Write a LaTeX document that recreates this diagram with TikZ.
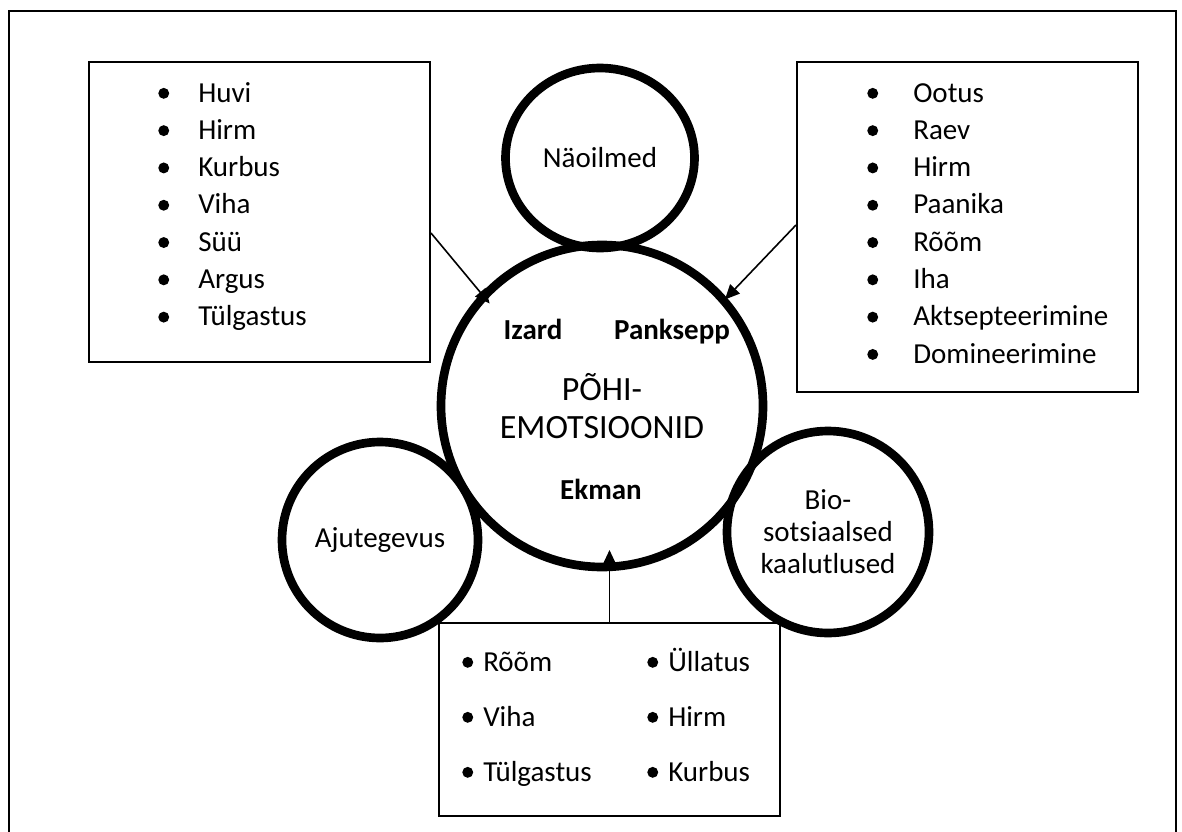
\documentclass[tikz,border=0pt]{standalone}
\usepackage{fontspec}
\setmainfont{Carlito}
\usetikzlibrary{arrows.meta}
\usetikzlibrary{shapes.geometric}
\usetikzlibrary{calc}

\newcommand{\listfont}{\fontsize{21.75pt}{28pt}\selectfont}
\newcommand{\bigfont}{\fontsize{25.5pt}{28.5pt}\selectfont}
\newcommand{\bul}{\tikz[baseline=-6.5pt]\fill (0pt,0pt) circle (4.1pt);}

\begin{document}
\begin{tikzpicture}[x=0.75pt, y=-0.75pt,
    bubble/.style={draw, circle, line width=6.5pt, inner sep=0pt, align=center, font=\listfont},
    listbox/.style={draw, line width=1.5pt, minimum width=255.75pt, inner sep=0pt},
    entry/.style={anchor=base west, inner sep=0pt, font=\listfont},
    author/.style={anchor=base, inner sep=0pt, font=\listfont\bfseries},
    arr/.style={line width=1.2pt, -{Triangle[length=11pt, width=10pt]}}]
  \useasboundingbox (0,0) rectangle (1182,832);
  \draw[line width=1.5pt] (9,832) |- (1176,11) -- (1176,832);

  % circles
  \node[bubble, font=\bigfont, minimum size=241.5pt] (main) at (602,406) {PÕHI-\\EMOTSIOONID};
  \node[bubble, ellipse, minimum width=141.75pt, minimum height=135pt] (face) at (600,158) {Näoilmed};
  \node[bubble, minimum size=147pt] (brain) at (380,540) {Ajutegevus};
  \node[bubble, minimum size=151.5pt, font=\fontsize{21.75pt}{24pt}\selectfont] (bio) at (828,532) {Bio-\\sotsiaalsed\\kaalutlused};

  % authors
  \node[author] (izard) at (533,339) {Izard};
  \node[author] (panksepp) at (672,339) {Panksepp};
  \node[author] (ekman) at (601,499) {Ekman};

  % boxes
  \node[listbox, minimum height=225pt] (lbox) at (259.5,212) {};
  \node[listbox, minimum height=247.5pt] (rbox) at (967.5,227) {};
  \node[listbox, minimum height=144.75pt] (bbox) at (609.5,719.5) {};

  \foreach \t [count=\i from 0] in {Huvi, Hirm, Kurbus, Viha, Süü, Argus, Tülgastus}
    \node[entry] (l\i) at (158,102+37.3*\i) {\makebox[30pt][l]{\bul}\t};
  \foreach \t [count=\i from 0] in {Ootus, Raev, Hirm, Paanika, Rõõm, Iha, Aktsepteerimine, Domineerimine}
    \node[entry] (r\i) at (867,102+37.3*\i) {\makebox[34.5pt][l]{\bul}\t};
  \foreach \a/\b [count=\i from 0] in {Rõõm/Üllatus, Viha/Hirm, Tülgastus/Kurbus} {
    \node[entry] (b\i) at (462,671+55*\i) {\makebox[15.75pt][l]{\bul}\a};
    \node[entry] (c\i) at (647,671+55*\i) {\makebox[15.75pt][l]{\bul}\b};
  }

  % arrows
  \draw[arr, shorten >=-10pt] ($(lbox.east)+(0,21)$) -- (main.137);
  \draw[arr, shorten >=-2pt] ($(rbox.west)+(0,-2)$) -- (main.41);
  \draw[arr, shorten >=-16pt] (bbox.north) -- (bbox.north |- main.south);
\end{tikzpicture}
\end{document}
